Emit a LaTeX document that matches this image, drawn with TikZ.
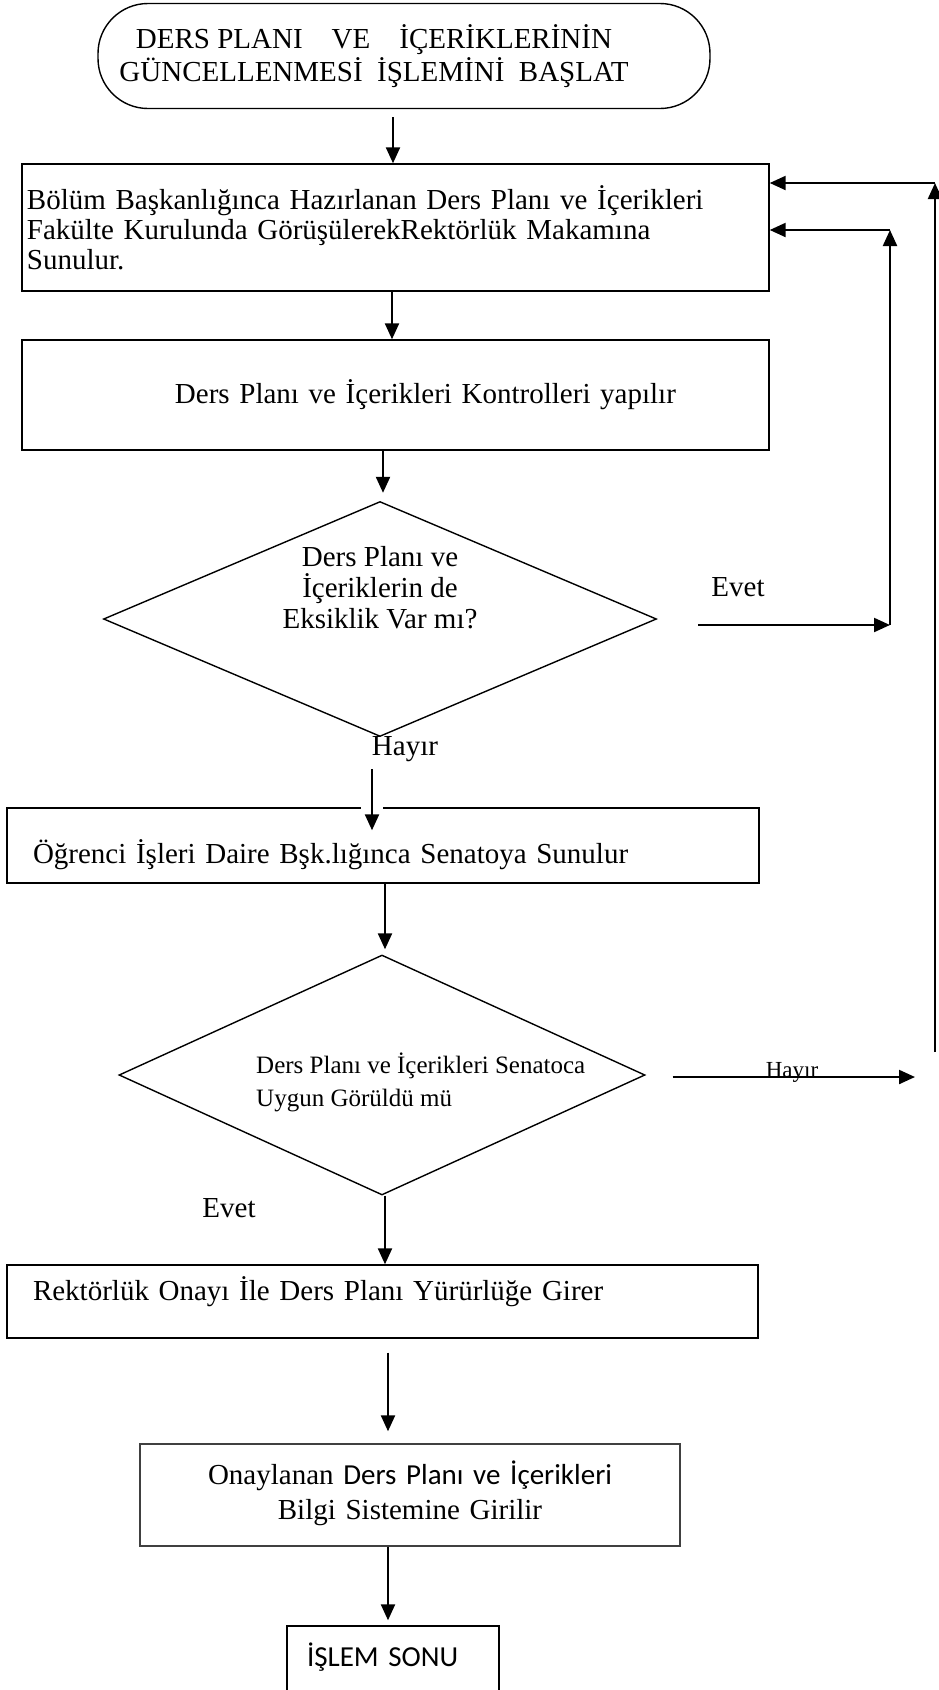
\documentclass[tikz,border=0pt]{standalone}
\usepackage{fontspec}
\setmainfont{Liberation Serif}
\newfontfamily\calibri{Carlito}
\usetikzlibrary{shapes.geometric,arrows.meta,calc}

\tikzset{
  kutu/.style={draw, line width=1.4pt, rectangle, inner sep=0pt, align=left},
  karar/.style={draw, line width=1.4pt, diamond, inner sep=0pt},
  yazi/.style={inner sep=0pt, align=center},
  ok/.style={line width=2.2pt, -{Triangle[length=16pt,width=14pt]}}
}

\begin{document}
\begin{tikzpicture}[x=1pt, y=-1pt, font=\fontsize{29}{31}\selectfont]
  \useasboundingbox (0,0) rectangle (938,1690);

  % start
  \node[draw, line width=1.4pt, rounded corners=50pt, minimum width=612pt,
        minimum height=105pt, align=center, inner sep=0pt,
        font=\fontsize{29}{33}\selectfont] (start) at (404,56)
    {DERS PLANI \ \ \ VE \ \ \ İÇERİKLERİNİN\hspace*{60pt}\\
     GÜNCELLENMESİ \ İŞLEMİNİ \ BAŞLAT\hspace*{60pt}};

  % process boxes
  \node[kutu, minimum width=747pt, minimum height=127pt, text width=737pt,
        font=\fontsize{29}{30}\selectfont] (bolum) at (395.5,227.5)
    {Bölüm Başkanlığınca Hazırlanan Ders Planı ve İçerikleri\\
     Fakülte Kurulunda GörüşülerekRektörlük Makamına\\
     Sunulur.};
  \node[kutu, minimum width=747pt, minimum height=110pt, text width=737pt]
    (kontrol) at (395.5,395)
    {\hspace*{148pt}Ders Planı ve İçerikleri Kontrolleri yapılır};

  % first decision
  \node[karar, minimum width=553pt, minimum height=235pt] (eksik) at (380,619) {};
  \node[yazi] (eksiktxt) at (380,588)
    {Ders Planı ve\\İçeriklerin de\\Eksiklik Var mı?};
  \node[yazi] (evet1) at (738,587) {Evet};
  \node[yazi] (hayir1) at (405,749) {Hayır};

  \node[kutu, minimum width=752pt, minimum height=75pt, text width=742pt,
        text height=41pt, text depth=6pt] (ogrenci) at (383,845.5)
    {\hspace*{21pt}Öğrenci İşleri Daire Bşk.lığınca Senatoya Sunulur};

  % second decision
  \node[karar, minimum width=526pt, minimum height=240pt] (senato) at (382,1075) {};
  \node[yazi, anchor=west, align=left, font=\fontsize{25}{33}\selectfont]
    (senatotxt) at (256,1082)
    {Ders Planı ve İçerikleri Senatoca\\Uygun Görüldü mü};
  \node[yazi] (evet2) at (229,1208) {Evet};
  \node[yazi, anchor=base, font=\fontsize{23}{25}\selectfont] (hayir2) at (792,1077) {Hayır};

  \node[kutu, minimum width=751pt, minimum height=73pt, text width=741pt,
        text height=12pt, text depth=15pt] (rektor) at (382.5,1301.5)
    {\hspace*{21pt}Rektörlük Onayı İle Ders Planı Yürürlüğe Girer};
  \node[kutu, draw=black!75, align=center, minimum width=540pt, minimum height=102pt,
        text width=540pt, text height=25pt, text depth=47pt,
        font=\fontsize{29}{35}\selectfont] (bilgi) at (410,1495)
    {Onaylanan {\calibri Ders Planı ve İçerikleri}\\Bilgi Sistemine Girilir};
  \node[kutu, minimum width=212pt, minimum height=74pt, text width=212pt,
        text depth=17pt, font=\calibri\fontsize{29}{31}\selectfont]
    (son) at (393,1663)
    {\hspace*{20pt}İŞLEM SONU};

  % main flow
  \draw[ok] ($(start.south)+(-11,8)$) -- ($(bolum.north)+(-2.5,0)$);
  \draw[ok] ($(bolum.south)+(-3.5,0)$) -- ($(kontrol.north)+(-3.5,0)$);
  \draw[ok] ($(kontrol.south)+(-12.5,0)$) -- ($(eksik.north)+(3,-8)$);
  \draw[ok, preaction={draw=white, line width=22pt, -}]
    ($(eksik.south)+(-8,32)$) -- ($(ogrenci.north)+(-11,23)$);
  \draw[ok] ($(ogrenci.south)+(2,0)$) -- ($(senato.north)+(3,-5)$);
  \draw[ok] ($(senato.south)+(3,0)$) -- ($(rektor.north)+(2.5,0)$);
  \draw[ok] ($(rektor.south)+(5.5,14)$) -- ($(bilgi.north)+(-22,-12)$);
  \draw[ok] ($(bilgi.south)+(-22,0)$) -- ($(son.north)+(-5,-5)$);

  % return loops
  \coordinate (d1) at (890,625);
  \coordinate (d2) at (890,230);
  \coordinate (g1) at (935,1052);
  \coordinate (g2) at (935,183);
  \coordinate (h2) at (915,1077);
  \draw[ok] ($(eksik.east)+(41,6)$) -- (d1);
  \draw[ok] (d1) -- (d2);
  \draw[ok] (d2) -- (d2 -| bolum.east);
  \draw[ok] ($(senato.east)+(27,2)$) -- (h2);
  \draw[ok] (g1) -- (g2);
  \draw[ok] (g2) -- (g2 -| bolum.east);
\end{tikzpicture}
\end{document}
